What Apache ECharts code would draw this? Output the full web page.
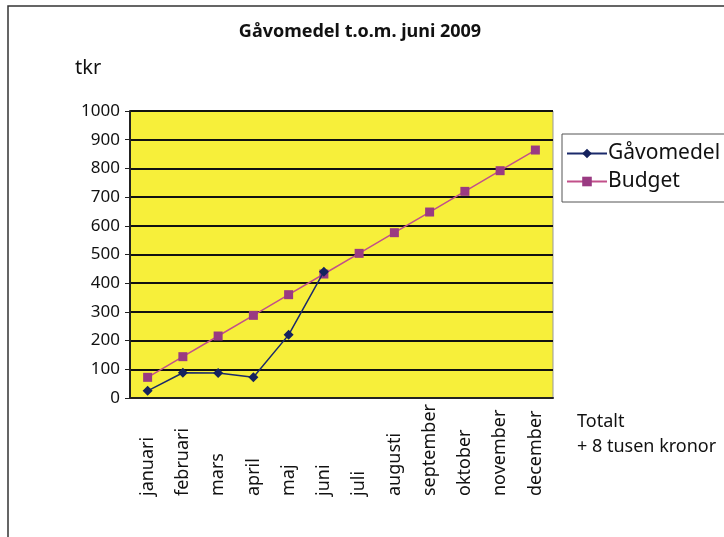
<!DOCTYPE html>
<html><head><meta charset="utf-8">
<script src="https://cdn.jsdelivr.net/npm/echarts@6/dist/echarts.min.js"></script>
<style>html,body{margin:0;padding:0;background:#fff}#c{width:724px;height:537px}</style>
</head><body><div id="c"></div>
<script>
const months = ['januari','februari','mars','april','maj','juni','juli','augusti','september','oktober','november','december'];
const gavomedel = [25, 88, 87, 72, 220, 440];
const budget = [72, 144, 216, 288, 360, 432, 504, 576, 648, 720, 792, 864];
const yTicks = [0, 100, 200, 300, 400, 500, 600, 700, 800, 900, 1000];
const titleText = 'Gåvomedel t.o.m. juni 2009';
const unitText = 'tkr';
const noteLines = ['Totalt', '+ 8 tusen kronor'];

const FONT = '"Noto Sans", "Open Sans", sans-serif';
const chart = echarts.init(document.getElementById('c'));
chart.setOption({
  animation: false,
  backgroundColor: '#fff',
  title: {
    text: titleText, left: 355, textAlign: 'center', top: 18,
    textStyle: {fontFamily: FONT, fontSize: 18, fontWeight: 'bold', color: '#111'}
  },
  graphic: [
    {type: 'rect', shape: {x: 8, y: 6, width: 760, height: 560}, style: {fill: 'none', stroke: '#333', lineWidth: 1.5}, silent: true},
    {type: 'text', left: 75, top: 58, style: {text: unitText, font: '20px ' + FONT, fill: '#111'}},
    {type: 'text', left: 577, top: 409, style: {text: noteLines.join('\n'), font: '18px ' + FONT, fill: '#111', lineHeight: 25}}
  ],
  legend: {
    left: 562, top: 134, orient: 'vertical', itemGap: 7,
    padding: [9, 40, 10, 4],
    borderColor: '#555', borderWidth: 1, backgroundColor: '#fff',
    itemWidth: 40, itemHeight: 12,
    textStyle: {fontFamily: FONT, fontSize: 21, color: '#111', padding: [0, 0, 0, -4]},
    data: ['Gåvomedel', 'Budget']
  },
  grid: {left: 130, right: 171, top: 111, bottom: 139, show: true, backgroundColor: '#f7ef3a', borderColor: '#999', borderWidth: 1},
  xAxis: {
    type: 'category', data: months, boundaryGap: true,
    axisLine: {show: true, lineStyle: {color: '#222', width: 2}},
    axisTick: {show: false},
    axisLabel: {rotate: 90, align: 'left', verticalAlign: 'middle', margin: 98, fontFamily: FONT, fontSize: 18, color: '#111', interval: 0}
  },
  yAxis: {
    type: 'value', min: yTicks[0], max: yTicks[yTicks.length - 1], interval: 100,
    axisLine: {show: true, lineStyle: {color: '#222', width: 2}},
    axisTick: {show: true, length: 5, lineStyle: {color: '#222'}},
    axisLabel: {margin: 10, fontFamily: FONT, fontSize: 17, color: '#111', formatter: v => String(v)},
    splitLine: {show: true, lineStyle: {color: '#111', width: 2}}
  },
  series: [
    {name: 'Gåvomedel', type: 'line', data: gavomedel, symbol: 'diamond', symbolSize: 10,
      lineStyle: {color: '#1b2a6b', width: 1.5}, itemStyle: {color: '#15225e'}, z: 3},
    {name: 'Budget', type: 'line', data: budget, symbol: 'rect', symbolSize: 9,
      lineStyle: {color: '#c2508a', width: 1.5}, itemStyle: {color: '#9a3a82'}, z: 2}
  ]
});
</script></body></html>
